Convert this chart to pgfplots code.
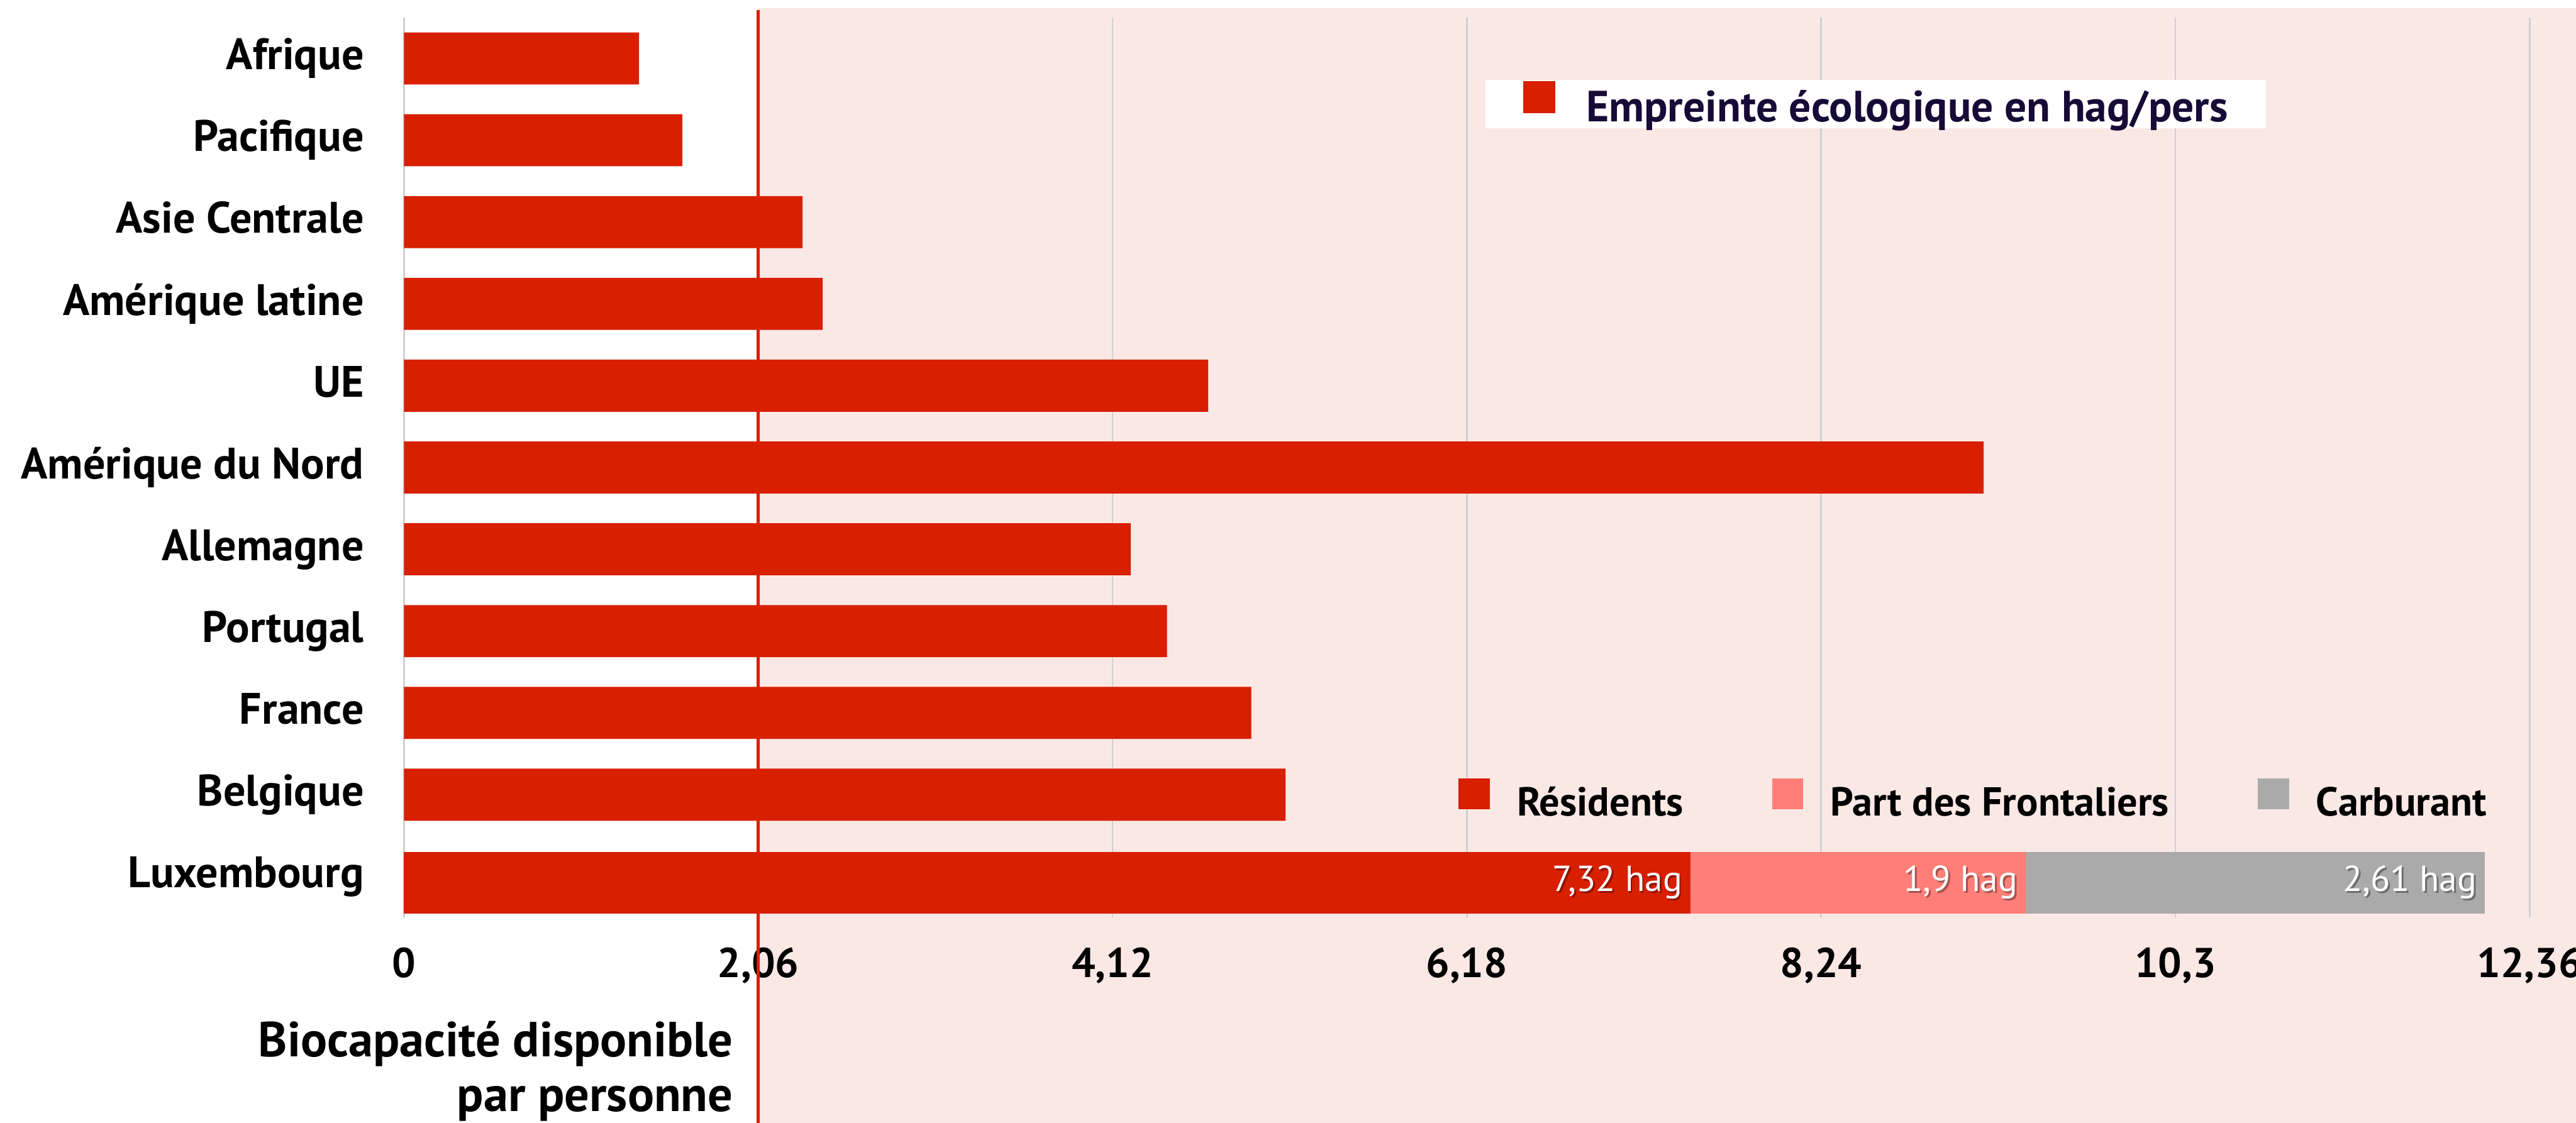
\documentclass[border=0pt]{standalone}
\usepackage{fontspec}
\setmainfont{PT Sans}
\usepackage{pgfplots}
\pgfplotsset{compat=1.18}
\definecolor{barred}{RGB}{216,31,0}
\definecolor{pinkbar}{RGB}{255,127,120}
\definecolor{graybar}{RGB}{170,170,170}
\definecolor{pinkbg}{RGB}{250,232,229}
\definecolor{gridgray}{RGB}{208,208,208}
\definecolor{navy}{RGB}{22,10,54}
\tikzset{lab/.style={anchor=base east, inner sep=0pt, font=\fontsize{11}{13}\selectfont}}
\begin{document}
\begin{tikzpicture}
\pgfplotsset{
  base/.style={
    scale only axis, width=661pt, height=273.9pt,
    xmin=0, xmax=12.63, ymin=-0.5, ymax=10.5, y dir=reverse,
    set layers, clip=false,
  },
}
\begin{axis}[base,
  axis line style={draw=none}, tick style={draw=none}, major tick length=0pt,
  xtick={0,2.06,4.12,6.18,8.24,10.3,12.36},
  xticklabels={0,{2,06},{4,12},{6,18},{8,24},{10,3},{12,36}},
  ytick={0,...,10},
  yticklabels={Afrique,Pacifique,Asie Centrale,Amérique latine,UE,Amérique du Nord,Allemagne,Portugal,France,Belgique,Luxembourg},
  xticklabel style={font=\fontsize{12.7}{15}\selectfont\bfseries, inner sep=0pt, anchor=north, yshift=-9pt},
  yticklabel style={font=\fontsize{13.4}{15}\selectfont\bfseries, inner sep=0pt, anchor=base east, xshift=-12pt, yshift=-3.4pt},
  xmajorgrids, grid style={draw=gridgray, line width=0.5pt},
  legend style={at={(axis cs:6.286,0.251)}, anchor=north west, draw=none, fill=white,
    inner xsep=11.5pt, inner ysep=0.5pt, nodes={inner sep=0pt},
    font=\fontsize{13.3}{15}\selectfont\bfseries, text=navy,
    /tikz/every odd column/.append style={column sep=9.35pt}},
  legend image code/.code={\fill[#1] (0pt,-1.5pt) rectangle (9.75pt,8.25pt);},
]
\begin{pgfonlayer}{axis background}
  \fill[pinkbg] ([yshift=2.85pt]axis cs:2.06,-0.5) rectangle (axis cs:13.5,13.2);
\end{pgfonlayer}
\begin{pgfonlayer}{pre main}
  \draw[barred, line width=0.85pt] ([yshift=2.3pt]axis cs:2.06,-0.5) -- (axis cs:2.06,13.2);
\end{pgfonlayer}
\addplot[xbar, bar width=15.85pt, bar shift=0pt, fill=barred, draw=none]
  coordinates {(1.367,0) (1.618,1) (2.318,2) (2.435,3) (4.676,4) (9.185,5) (4.226,6) (4.437,7) (4.927,8) (5.126,9)};
\addlegendentry{Empreinte écologique en hag/pers}
\node[anchor=base east, inner sep=0pt, font=\fontsize{15}{17}\selectfont\bfseries] at ([xshift=-7.5pt]axis cs:2.06,12.199) {Biocapacité disponible};
\node[anchor=base east, inner sep=0pt, font=\fontsize{15}{17}\selectfont\bfseries] at ([xshift=-7.5pt]axis cs:2.06,12.874) {par personne};
\coordinate (NW) at ([xshift=-122.95pt,yshift=5.35pt]axis cs:0,-0.5);
\coordinate (SE) at ([yshift=-62.5pt]axis cs:12.63,10.5);
\coordinate (L1) at (axis cs:7.48,10.183);
\coordinate (L2) at (axis cs:9.43,10.183);
\coordinate (L3) at (axis cs:12.10,10.183);
\end{axis}
\begin{axis}[base, hide axis, xbar stacked, bar width=18.75pt,
  legend columns=3,
  legend style={at={(axis cs:6.128,8.79)}, anchor=north west, draw=none, fill=none,
    inner sep=0pt, nodes={inner sep=0pt},
    font=\fontsize{12.3}{15}\selectfont\bfseries, text=black,
    /tikz/every odd column/.append style={column sep=8.3pt},
    /tikz/every even column/.append style={column sep=27pt}},
  legend image code/.code={\fill[#1] (0pt,-1.7pt) rectangle (9.5pt,7.75pt);},
]
\addplot[fill=barred, draw=none] coordinates {(7.48,10.074)};
\addlegendentry{Résidents}
\addplot[fill=pinkbar, draw=none] coordinates {(1.95,10.074)};
\addlegendentry{Part des Frontaliers}
\addplot[fill=graybar, draw=none] coordinates {(2.67,10.074)};
\addlegendentry{Carburant}
\end{axis}
\node[lab, text=black, text opacity=0.35] at ([xshift=-1.7pt,yshift=-0.6pt]L1) {7,32 hag};
\node[lab, text=white] at ([xshift=-2.25pt]L1) {7,32 hag};
\node[lab, text=black, text opacity=0.35] at ([xshift=-1.7pt,yshift=-0.6pt]L2) {1,9 hag};
\node[lab, text=white] at ([xshift=-2.25pt]L2) {1,9 hag};
\node[lab, text=black, text opacity=0.35] at ([xshift=-1.7pt,yshift=-0.6pt]L3) {2,61 hag};
\node[lab, text=white] at ([xshift=-2.25pt]L3) {2,61 hag};
\pgfresetboundingbox
\path (NW) rectangle (SE);
\end{tikzpicture}
\end{document}
